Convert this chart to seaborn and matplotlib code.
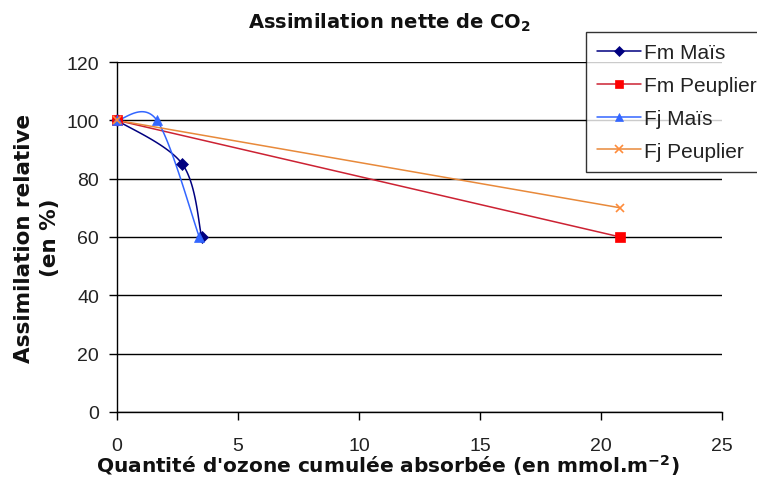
import numpy as np
import matplotlib
matplotlib.use("Agg")
import matplotlib.pyplot as plt
import seaborn as sns
from matplotlib.lines import Line2D

## Data
fm_mais_x = [0, 2.7, 3.5]
fm_mais_y = [100, 85, 60]
fm_peup_x = [0, 20.8]
fm_peup_y = [100, 60]
fj_mais_x = [0, 1.65, 3.4]
fj_mais_y = [100, 100, 60]
fj_peup_x = [0, 20.8]
fj_peup_y = [100, 70]

labels = ["Fm Maïs", "Fm Peuplier", "Fj Maïs", "Fj Peuplier"]
line_colors = ["#000080", "#cc2233", "#3366ff", "#e8893a"]
marker_colors = ["#000080", "#ff0000", "#3366ff", "#ff8c3a"]
markers = ["D", "s", "^", "x"]
msizes = [6, 7.5, 7.5, 6]

sns.set_style("white")
plt.rcParams["font.family"] = ["Liberation Sans", "DejaVu Sans"]
plt.rcParams["mathtext.fontset"] = "dejavusans"

fig = plt.figure(figsize=(7.57, 4.85), dpi=100)
ax = fig.add_axes([117 / 757, 1 - 413 / 485, (722 - 117) / 757, (413 - 63) / 485])
ax.set_xlim(0, 25)
ax.set_ylim(0, 120)
ax.set_xticks(range(0, 26, 5))
ax.set_yticks(range(0, 121, 20))
ax.yaxis.grid(True, color="black", lw=1)
ax.xaxis.grid(False)
for s in ["top", "right"]:
    ax.spines[s].set_visible(False)
for s in ["left", "bottom"]:
    ax.spines[s].set_color("black")
    ax.spines[s].set_linewidth(1)
ax.tick_params(axis="both", direction="out", length=6, width=1, color="black",
               labelsize=14, bottom=True, left=True, labelcolor="#222222")
ax.tick_params(axis="x", pad=12)
ax.tick_params(axis="y", pad=7)


def smooth(xs, ys):
    ## Excel-like smoothed line (Catmull-Rom bezier in screen space)
    pts = ax.transData.transform(np.column_stack([xs, ys]))
    n = len(pts)
    out = [pts[0]]
    t = np.linspace(0, 1, 40)[1:]
    for i in range(n - 1):
        p0 = pts[max(i - 1, 0)]
        p1 = pts[i]
        p2 = pts[i + 1]
        p3 = pts[min(i + 2, n - 1)]
        c1 = p1 + (p2 - p0) / 6
        c2 = p2 - (p3 - p1) / 6
        for tt in t:
            b = ((1 - tt) ** 3) * p1 + 3 * ((1 - tt) ** 2) * tt * c1 + 3 * (1 - tt) * tt ** 2 * c2 + tt ** 3 * p2
            out.append(b)
    out = ax.transData.inverted().transform(np.array(out))
    return out[:, 0], out[:, 1]


series = [(fm_mais_x, fm_mais_y, True), (fm_peup_x, fm_peup_y, False),
          (fj_mais_x, fj_mais_y, True), (fj_peup_x, fj_peup_y, False)]

for (xs, ys, sm), lc, mc, m, ms in zip(series, line_colors, marker_colors, markers, msizes):
    if sm:
        sx, sy = smooth(xs, ys)
        ax.plot(sx, sy, color=lc, lw=1.1, clip_on=False)
    else:
        sns.lineplot(x=xs, y=ys, color=lc, lw=1.1, sort=False, ax=ax)
    ax.plot(xs, ys, linestyle="none", marker=m, color=mc, markersize=ms,
            markeredgewidth=1.2 if m == "x" else 0.5, clip_on=False, zorder=5)

bold = dict(family="DejaVu Sans", fontweight="bold", color="#111111")
fig.text(390 / 757, 1 - 23 / 485, "Assimilation nette de CO$_\\mathbf{2}$",
         ha="center", va="center", fontsize=14, **bold)
fig.text(388 / 757, 1 - 466 / 485, "Quantité d'ozone cumulée absorbée (en mmol.m$^\\mathbf{-2}$)",
         ha="center", va="center", fontsize=14.5, **bold)
fig.text(37 / 757, 1 - 238 / 485, "Assimilation relative\n(en %)", rotation=90,
         ha="center", va="center", multialignment="center", linespacing=1.35,
         fontsize=15.5, **bold)

handles = [Line2D([0], [0], color=lc, lw=1.1, marker=m, markersize=ms * 0.85,
                  markerfacecolor=mc, markeredgecolor=mc,
                  markeredgewidth=1.2 if m == "x" else 0.5)
           for lc, mc, m, ms in zip(line_colors, marker_colors, markers, msizes)]
leg = fig.legend(handles, labels, loc="upper left", bbox_to_anchor=(586 / 757, 1 - 33 / 485),
                 frameon=True, fancybox=False, fontsize=15, handlelength=2.1,
                 handletextpad=0.15, labelspacing=0.66, borderpad=0.55, borderaxespad=0)
leg.get_frame().set_edgecolor("black")
leg.get_frame().set_linewidth(1)
for txt in leg.get_texts():
    txt.set_color("#222222")

fig.savefig("out.png", dpi=100)
